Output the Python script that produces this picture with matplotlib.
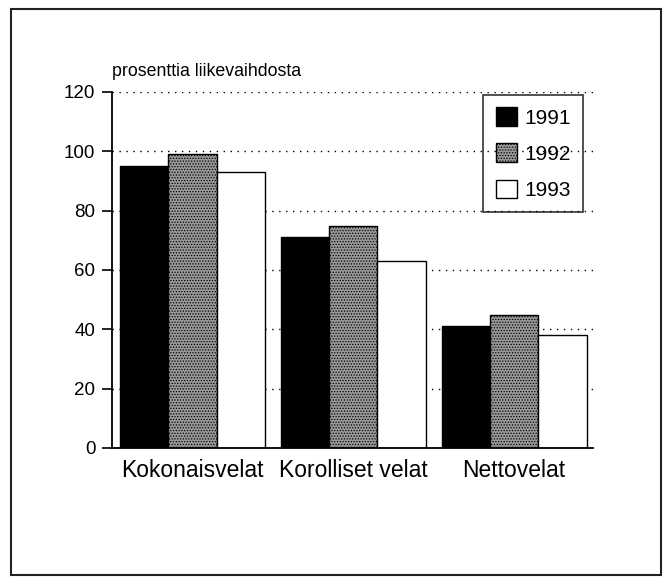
import numpy as np
import matplotlib
matplotlib.use('Agg')
import matplotlib.pyplot as plt
from matplotlib.patches import Rectangle

plt.rcParams['font.family'] = ['Liberation Sans', 'DejaVu Sans']
plt.rcParams['hatch.linewidth'] = 0.6

# data
categories = ['Kokonaisvelat', 'Korolliset velat', 'Nettovelat']
years = ['1991', '1992', '1993']
values_1991 = [95, 71, 41]
values_1992 = [99, 75, 45]
values_1993 = [93, 63, 38]
yticks = [0, 20, 40, 60, 80, 100, 120]

fig = plt.figure(figsize=(6.64, 5.77), dpi=100)

# outer frame around the whole picture
fig.patches.append(Rectangle((11 / 664, 2 / 577), 650 / 664, 566 / 577,
                             transform=fig.transFigure, fill=False,
                             edgecolor='#222222', linewidth=1.5))

ax = fig.add_axes([112 / 664, 1 - 448 / 577, 481 / 664, 356 / 577])

x = np.arange(len(categories))
w = 0.3
styles = [
    dict(color='black', edgecolor='black'),
    dict(color='#999999', edgecolor='black', hatch='......'),
    dict(color='white', edgecolor='black'),
]
series = [values_1991, values_1992, values_1993]
for i, (vals, st) in enumerate(zip(series, styles)):
    ax.bar(x + (i - 1) * w, vals, width=w, linewidth=1.0,
           label=years[i], zorder=2, **st)

ax.set_xlim(-0.5, 2.49)
ax.set_ylim(0, 120)
ax.set_yticks(yticks)
ax.set_xticks(x)
ax.set_xticklabels(categories)
ax.yaxis.grid(True, linestyle=(0, (1, 4)), color='black', linewidth=1.0, zorder=1)
ax.set_axisbelow(True)

for side in ['top', 'right']:
    ax.spines[side].set_visible(False)
for side in ['left', 'bottom']:
    ax.spines[side].set_linewidth(1.3)

ax.tick_params(axis='y', length=7, width=1.2, pad=5, labelsize=13.5)
ax.tick_params(axis='x', length=0, pad=8, labelsize=16.5)

ax.text(0.0, 1.035, 'prosenttia liikevaihdosta', transform=ax.transAxes,
        fontsize=12.8, ha='left', va='bottom')

leg = ax.legend(loc='upper right', bbox_to_anchor=(0.979, 0.992),
                borderaxespad=0, fancybox=False,
                edgecolor='black', fontsize=15,
                handlelength=1.0, handleheight=1.0, labelspacing=0.75,
                borderpad=0.6, handletextpad=0.35)
leg.get_frame().set_facecolor('none')
leg.get_frame().set_linewidth(1.2)

fig.savefig('out.png', dpi=100)
